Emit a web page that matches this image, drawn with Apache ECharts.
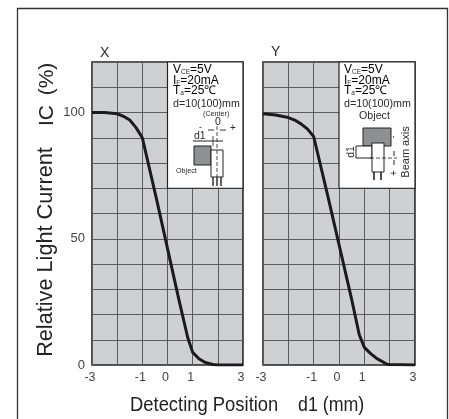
<!DOCTYPE html>
<html><head><meta charset="utf-8">
<script src="https://cdn.jsdelivr.net/npm/echarts@6/dist/echarts.min.js"></script>
<style>html,body{margin:0;padding:0;background:#fff}#c{width:449px;height:419px}</style>
</head><body><div id="c"></div>
<script>
const curveX = [[-3,100],[-2.5,100],[-2,99.5],[-1.75,98.5],[-1.5,97],[-1.25,94],[-1,90],[-0.42,65],[0.45,26],[0.8,11],[1,5],[1.25,2.5],[1.5,1],[1.8,0.2],[2,0],[3,0]];
const curveY = [[-3,99.5],[-2.5,99],[-2,98],[-1.75,97],[-1.5,95.5],[-1.25,93.5],[-1,90.5],[-0.42,66],[0.5,26],[0.8,12],[1,7],[1.25,4.5],[1.5,2.5],[1.9,0.3],[2,0.2],[3,0]];
const xTickLabels = {'-3':'-3','-1':'-1','0':'0','1':'1','3':'3'};
const yTickLabels = {'0':'0','50':'50','100':'100'};
const noteBox = [0,3,70,120];
const FONT = '"Liberation Sans", Arial, sans-serif';
const ink = '#222', plot = '#cfd0d2', gridLine = '#5c5c5c';

function xAxis(i, showLabels){
  return {gridIndex:i,type:'value',min:-3,max:3,interval:1,
    axisLine:{show:false},axisTick:{show:false},
    splitLine:{show:true,lineStyle:{color:gridLine,width:1}},
    axisLabel:{show:showLabels,margin:6,color:'#444',fontFamily:FONT,fontSize:12.5,padding:[0,4,0,0],
      showMinLabel:true,showMaxLabel:true,hideOverlap:false,
      formatter:v=>xTickLabels[String(v)]||''}};
}
function yAxis(i, showLabels){
  return {gridIndex:i,type:'value',min:0,max:120,interval:10,
    axisLine:{show:false},axisTick:{show:false},
    splitLine:{show:true,lineStyle:{color:gridLine,width:1}},
    axisLabel:{show:showLabels,margin:7,color:'#444',fontFamily:FONT,fontSize:13,
      formatter:v=>yTickLabels[String(v)]||''}};
}
function curve(i,data){
  return {type:'line',xAxisIndex:i,yAxisIndex:i,data,smooth:false,symbol:'none',silent:true,
    lineStyle:{color:'#1c1a1a',width:3,join:'round'},z:5,
    markArea:{silent:true,z:3,itemStyle:{color:'#fff',borderColor:ink,borderWidth:1.2},
      data:[[{coord:[noteBox[0],noteBox[2]]},{coord:[noteBox[1],noteBox[3]]}]]}};
}
function txt(x,y,t,size,extra){
  return Object.assign({type:'text',x,y,z:20,style:{text:t,fill:'#2a2a2a',font:size+'px '+FONT,textVerticalAlign:'middle'}},extra||{});
}
function rot(x,y,t,size,extra){
  return {type:'text',x,y,rotation:Math.PI/2,z:20,style:Object.assign({text:t,fill:'#2a2a2a',font:size+'px '+FONT,textAlign:'center',textVerticalAlign:'middle'},extra||{})};
}
function ln(x1,y1,x2,y2,w,dash){
  return {type:'line',z:21,shape:{x1,y1,x2,y2},style:{stroke:ink,lineWidth:w||1,lineDash:dash||null}};
}
function rect(x,y,w,h,fill,lw){
  return {type:'rect',z:20,shape:{x,y,width:w,height:h},style:{fill,stroke:ink,lineWidth:lw||1}};
}
function cond(x,sub1,rest,y){
  return {type:'text',x,y,z:20,style:{rich:{a:{fontSize:10.5,fontFamily:FONT,fill:'#2a2a2a'},s:{fontSize:6.5,fontFamily:FONT,fill:'#2a2a2a',verticalAlign:'bottom'}},
    text:sub1+rest,textVerticalAlign:'middle'}};
}
const graphic = [
  {type:'polyline',z:1,shape:{points:[[17.5,419],[17.5,8.5],[447.5,8.5],[447.5,419]]},style:{fill:null,stroke:'#333',lineWidth:1.3}},
  txt(100,53,'X',14),
  txt(271,52,'Y',14),
  rot(46.5,252,'Relative Light Current',21.7,{fill:'#222'}),
  rot(47,115.5,'IC',21,{fill:'#222'}),
  rot(47,79,'(%)',21,{fill:'#222'}),
  {type:'text',x:130,y:405,scaleX:0.92,z:20,style:{text:'Detecting Position',fill:'#222',font:'20px '+FONT,textVerticalAlign:'middle'}},
  {type:'text',x:298,y:405,scaleX:0.89,z:20,style:{text:'d1 (mm)',fill:'#222',font:'20px '+FONT,textVerticalAlign:'middle'}},
  // X note
  cond(173,'V{s|CE}','=5V',70), cond(173,'I{s|F}','=20mA',81), cond(173,'T{s|a}','=25℃',91),
  txt(173,104,'d=10(100)mm',10.7),
  txt(203,114,'(Center)',7.2),
  txt(215,122,'0',10.5),
  txt(199,128,'-',9), txt(230,128,'+',10),
  txt(194,136,'d1',10.5),
  txt(176,171,'Object',7.2),
  rect(194,146,17,19,'#8f9092',1),
  rect(211,150,12,27,'#fff',1),
  ln(213,177,213,186,1.4), ln(217,177,217,186,1.4), ln(221,177,221,186,1.4),
  ln(217,126,217,177,0.8,[4,2]),
  ln(193,141,223,141,1),
  ln(213,136,213,146,0.8),
  ln(208,130,214,130,0.9), ln(220,130,226,130,0.9),
  // Y note
  cond(344,'V{s|CE}','=5V',70), cond(344,'I{s|F}','=20mA',81), cond(344,'T{s|a}','=25℃',91),
  txt(344,104,'d=10(100)mm',10.7),
  txt(359,116,'Object',10.7),
  rect(363,128,28,18,'#8f9092',1),
  rect(356,146,16,12,'#fff',1),
  rect(372,143,12,29,'#fff',1),
  ln(374,172,374,180,1.6), ln(381,172,381,180,1.6),
  ln(370,158,397,158,0.8,[4,2]),
  ln(394,151,394,156,1), ln(394,160,394,165,1),
  rot(351,152,'d1',10.5),
  rot(394,137,'-',9),
  rot(394,173,'+',10),
  rot(406,152,'Beam axis',11)
];
const option = {
  animation:false,backgroundColor:'#fff',
  grid:[
    {left:92,top:62,width:151,height:303,show:true,backgroundColor:plot,borderColor:ink,borderWidth:1.6,z:0},
    {left:263,top:62,width:152,height:303,show:true,backgroundColor:plot,borderColor:ink,borderWidth:1.6,z:0}
  ],
  xAxis:[xAxis(0,true),xAxis(1,true)],
  yAxis:[yAxis(0,true),yAxis(1,false)],
  series:[curve(0,curveX),curve(1,curveY)],
  graphic
};
echarts.init(document.getElementById('c'),null,{renderer:'canvas'}).setOption(option);
</script></body></html>
